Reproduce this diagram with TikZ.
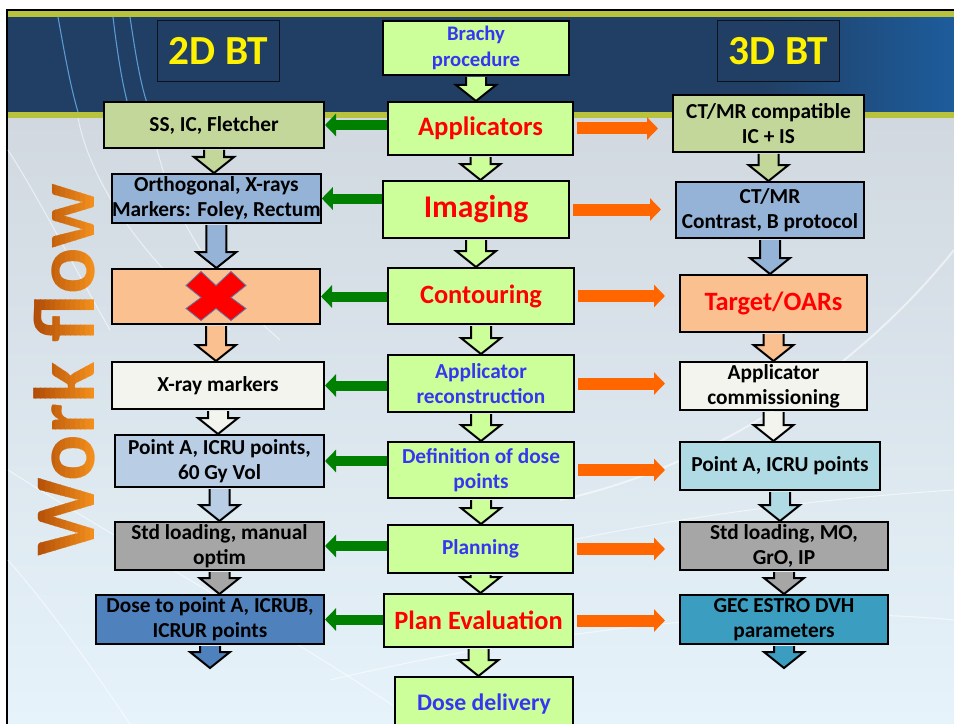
\documentclass[tikz,border=0pt]{standalone}
\usepackage{fontspec}
\setmainfont{Carlito}
\usetikzlibrary{arrows.meta,calc}

\definecolor{hdrblue}{HTML}{213F64}
\definecolor{hdrright}{HTML}{1D5C9C}
\definecolor{olive}{HTML}{B9C23C}
\definecolor{bgtop}{HTML}{D1D8E0}
\definecolor{bgbot}{HTML}{E6F3FA}
\definecolor{flowgreen}{HTML}{CCFF99}
\definecolor{txtblue}{HTML}{3636F2}
\definecolor{olivebox}{HTML}{C4D79B}
\definecolor{bluebox}{HTML}{95B3D7}
\definecolor{peach}{HTML}{FAC090}
\definecolor{ivory}{HTML}{F4F4EE}
\definecolor{paleblue}{HTML}{B9CDE5}
\definecolor{greybox}{HTML}{A6A6A6}
\definecolor{midblue}{HTML}{4F81BD}
\definecolor{cyanbox}{HTML}{B0DBE5}
\definecolor{tealbox}{HTML}{3B9DBF}
\definecolor{arrgreen}{HTML}{008000}
\definecolor{arrorange}{HTML}{FF6600}
\definecolor{wfdark}{HTML}{AE4A06}
\definecolor{wflight}{HTML}{F7941E}
\definecolor{crossline}{HTML}{5A7DB0}
\definecolor{hdrline}{HTML}{5B9BD5}

% 下向きの太矢印
\newcommand{\blockdown}[3]{%
 \filldraw[line width=1.5pt,line join=miter,fill=#3]
  ($(#1.south)+(-10,1)$) -- ($(#1.south |- #2)+(-10,-16)$) -- ($(#1.south |- #2)+(-20,-16)$)
  -- (#1.south |- #2) -- ($(#1.south |- #2)+(20,-16)$) -- ($(#1.south |- #2)+(10,-16)$)
  -- ($(#1.south)+(10,1)$);
}

\begin{document}
\begin{tikzpicture}[x=0.75pt,y=-0.75pt,
 box/.style={draw=black,line width=1.5pt,inner sep=0pt,anchor=north west,align=center,
  font=\bfseries\fontsize{16}{19}\selectfont},
 flow/.style={box,fill=flowgreen,text=txtblue,font=\bfseries\fontsize{16}{19}\selectfont},
 keyflow/.style={flow,text=red},
 headbox/.style={draw=black!70!hdrblue,line width=0.6pt,fill=hdrblue,text=yellow,anchor=north west,
  inner sep=0pt,minimum width=91.5pt,minimum height=45.75pt,font=\bfseries\fontsize{31}{31}\selectfont},
 toleft/.style={arrgreen,line width=7.5pt,-{Triangle[length=8.25pt,width=16.5pt]}},
 toright/.style={arrorange,line width=9pt,-{Triangle[length=8.25pt,width=16.5pt]},
  shorten <=2.25pt,shorten >=10.5pt},
 wftext/.style={rotate=90,inner sep=0pt,font=\bfseries\fontsize{65}{65}\selectfont},
 decoline/.style={white,line width=0.8pt,opacity=0.55}
 ]
 % 背景
 \fill[white] (0,0) rectangle (954,724);
 \useasboundingbox (0,0) rectangle (954,724);
 \shade[top color=bgtop,bottom color=bgbot] (8,118) rectangle (954,724);
 \fill[hdrblue] (8,17) rectangle (954,112);
 \shade[left color=hdrblue,right color=hdrright] (760,17) rectangle (954,112);
 \fill[olive] (8,11) rectangle (954,17);
 \fill[olive] (8,112) rectangle (954,118);
 \draw[line width=1.5pt] (7,724) -- (7,10) -- (954,10);

 % 飾りの線
 \draw[hdrline,line width=0.8pt] (58,17) .. controls (64,50) and (70,85) .. (78,112);
 \draw[hdrline,line width=0.8pt] (113,17) .. controls (117,50) and (122,85) .. (130,112);
 \draw[hdrline,line width=0.8pt] (130,17) .. controls (135,50) and (140,85) .. (150,112);
 \draw[decoline] (78,118) .. controls (90,180) and (140,260) .. (230,330);
 \draw[decoline] (150,118) .. controls (165,200) and (200,270) .. (280,340);
 \draw[decoline] (8,150) .. controls (40,200) and (70,260) .. (110,330);
 \draw[decoline] (8,560) .. controls (60,620) and (100,680) .. (130,724);
 \draw[decoline] (8,470) .. controls (150,560) and (300,640) .. (420,724);
 \draw[decoline,line width=1.5pt] (560,500) .. controls (700,470) and (850,380) .. (954,250);
 \draw[decoline] (480,560) .. controls (650,520) and (800,500) .. (954,490);
 \draw[decoline] (330,680) .. controls (500,640) and (750,600) .. (954,620);

 % Work flow
 \foreach \i in {0,...,13}{
  \pgfmathsetmacro{\wfmix}{100-\i*100/13}
  \begin{scope}
   \clip (30+5*\i,170) rectangle (35.4+5*\i,570);
   \node[wftext,text=wfdark!\wfmix!wflight] (wf\i) at (64,370) {Work flow};
  \end{scope}
 }

 % 見出し
 \node[headbox] (bt2) at (157,20) {2D BT};
 \node[headbox] (bt3) at (717,20) {3D BT};

 % 中央列
 \node[flow,font=\bfseries\fontsize{15.5}{19}\selectfont,minimum width=139.5pt,minimum height=40.5pt] (brachy) at (382,20) {Brachy\\procedure};
 \node[keyflow,font=\bfseries\fontsize{20}{22}\selectfont,minimum width=138.75pt,minimum height=39.75pt] (applic) at (387,101) {Applicators};
 \node[keyflow,font=\bfseries\fontsize{23.7}{26}\selectfont,minimum width=139.5pt,minimum height=42.75pt] (imaging) at (382,180) {Imaging};
 \node[keyflow,font=\bfseries\fontsize{19.8}{22}\selectfont,minimum width=139.5pt,minimum height=42pt] (contour) at (387,267) {Contouring};
 \node[flow,minimum width=139.5pt,minimum height=42.75pt] (recon) at (387,354) {Applicator\\reconstruction};
 \node[flow,minimum width=139.5pt,minimum height=42pt] (defin) at (387,441) {Definition of dose\\points};
 \node[flow,minimum width=138.75pt,minimum height=36pt] (plan) at (387,524) {Planning};
 \node[keyflow,font=\bfseries\fontsize{19.8}{22}\selectfont,minimum width=141.75pt,minimum height=39.75pt] (evalu) at (383,593) {Plan Evaluation};
 \node[flow,font=\bfseries\fontsize{17.8}{20}\selectfont,minimum width=133.5pt,minimum height=40.5pt] (deliv) at (394,676) {Dose delivery};

 % 左列 (2D)
 \node[box,fill=olivebox,minimum width=165pt,minimum height=34.5pt] (ssic) at (103,101) {SS, IC, Fletcher};
 \node[box,fill=bluebox,minimum width=156pt,minimum height=36.75pt] (ortho) at (111,173) {Orthogonal, X-rays\\Markers: Foley, Rectum};
 \node[box,fill=peach,minimum width=156pt,minimum height=41.25pt] (nocont) at (111,268) {};
 \node[box,fill=ivory,minimum width=159pt,minimum height=35.25pt] (xraym) at (111,361) {X-ray markers};
 \node[box,fill=paleblue,minimum width=156.75pt,minimum height=39pt] (pointl) at (114,434) {Point A, ICRU points,\\60 Gy Vol};
 \node[box,fill=greybox,minimum width=156.75pt,minimum height=36pt] (stdl) at (114,521) {Std loading, manual\\optim};
 \node[box,fill=midblue,minimum width=171pt,minimum height=36.75pt] (dosel) at (95,594) {Dose to point A, ICRUB,\\ICRUR points};
 \coordinate (endl) at (209,668);

 % 右列 (3D)
 \node[box,fill=olivebox,minimum width=143.25pt,minimum height=42.75pt] (ctic) at (672,94) {CT/MR compatible\\IC + IS};
 \node[box,fill=bluebox,minimum width=141pt,minimum height=42pt] (ctmr) at (675,181) {CT/MR\\Contrast, B protocol};
 \node[box,fill=peach,text=red,font=\bfseries\fontsize{19.8}{22}\selectfont,minimum width=140.25pt,minimum height=42.75pt] (target) at (679,274) {Target/OARs};
 \node[box,fill=ivory,minimum width=140.25pt,minimum height=36pt] (commis) at (679,361) {Applicator\\commissioning};
 \node[box,fill=cyanbox,minimum width=150pt,minimum height=36pt] (pointr) at (679,441) {Point A, ICRU points};
 \node[box,fill=greybox,minimum width=156pt,minimum height=36pt] (stdr) at (679,521) {Std loading, MO,\\GrO, IP};
 \node[box,fill=tealbox,minimum width=156pt,minimum height=36.75pt] (gec) at (679,594) {GEC ESTRO DVH\\parameters};
 \coordinate (endr) at (783,668);

 % バツ印
 \filldraw[fill=red,draw=crossline,line width=0.6pt] ($(nocont.center)+(-15,-25)$)
  -- ++(15,14) -- ++(15,-14) -- ++(15,14) -- ++(-15,12) -- ++(15,11) -- ++(-15,12)
  -- ++(-15,-12) -- ++(-15,12) -- ++(-15,-12) -- ++(15,-11) -- ++(-15,-12) -- cycle;

 % 下向き矢印
 \blockdown{brachy}{applic.north}{flowgreen}
 \blockdown{applic}{imaging.north}{flowgreen}
 \blockdown{imaging}{contour.north}{flowgreen}
 \blockdown{contour}{recon.north}{flowgreen}
 \blockdown{recon}{defin.north}{flowgreen}
 \blockdown{defin}{plan.north}{flowgreen}
 \blockdown{plan}{evalu.north}{flowgreen}
 \blockdown{evalu}{deliv.north}{flowgreen}

 \blockdown{ssic}{ortho.north}{olivebox}
 \blockdown{ortho}{nocont.north}{bluebox}
 \blockdown{nocont}{xraym.north}{peach}
 \blockdown{xraym}{pointl.north}{ivory}
 \blockdown{pointl}{stdl.north}{paleblue}
 \blockdown{stdl}{dosel.north}{greybox}
 \blockdown{dosel}{endl}{midblue}

 \blockdown{ctic}{ctmr.north}{olivebox}
 \blockdown{ctmr}{target.north}{bluebox}
 \blockdown{target}{commis.north}{peach}
 \blockdown{commis}{pointr.north}{ivory}
 \blockdown{pointr}{stdr.north}{cyanbox}
 \blockdown{stdr}{gec.north}{greybox}
 \blockdown{gec}{endr}{tealbox}

 % 横向き矢印
 \draw[toleft] (applic.west |- ssic.east) -- (ssic.east);
 \draw[toleft] (imaging.west |- ortho.east) -- (ortho.east);
 \draw[toleft] (contour.west |- nocont.east) -- (nocont.east);
 \draw[toleft] (recon.west |- xraym.east) -- (xraym.east);
 \draw[toleft] (defin.west |- pointl.east) -- (pointl.east);
 \draw[toleft] (plan.west |- stdl.east) -- (stdl.east);
 \draw[toleft] (evalu.west |- dosel.east) -- (dosel.east);

 \draw[toright] (applic.east) -- (applic.east -| ctic.west);
 \draw[toright] (imaging.east) -- (imaging.east -| ctmr.west);
 \draw[toright] (contour.east) -- (contour.east -| target.west);
 \draw[toright] (recon.east) -- (recon.east -| commis.west);
 \draw[toright] (defin.east) -- (defin.east -| pointr.west);
 \draw[toright] (plan.east) -- (plan.east -| stdr.west);
 \draw[toright] (evalu.east) -- (evalu.east -| gec.west);
\end{tikzpicture}
\end{document}
